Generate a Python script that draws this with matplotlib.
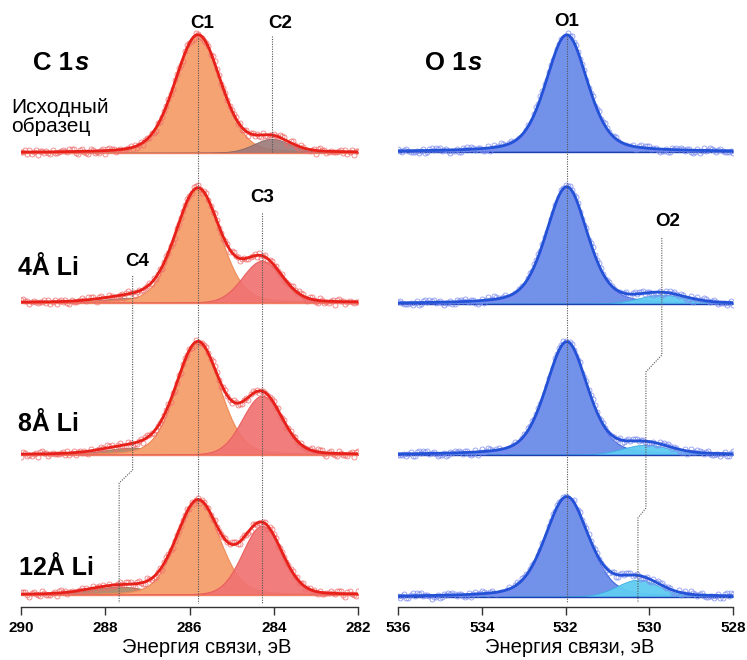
import numpy as np
import matplotlib
matplotlib.use('Agg')
import matplotlib.pyplot as plt

plt.rcParams['font.family'] = ['Liberation Sans', 'DejaVu Sans']

# ---------------- data (intensities in arbitrary units) ----------------
row_labels = ['Исходный\nобразец', '4Å Li', '8Å Li', '12Å Li']
C_offsets = [454, 304, 152, 12]
O_offsets = [455, 303, 152, 10]

C1_center = [285.80, 285.80, 285.80, 285.80]
C1_height = [118, 114, 112, 94]
C1_fwhm = [1.28, 1.24, 1.22, 1.2]

C2_center = [284.05, None, None, None]
C2_height = [14, 0, 0, 0]
C2_fwhm = [1.0, 1.0, 1.0, 1.0]

C3_center = [None, 284.28, 284.28, 284.28]
C3_height = [0, 42, 59, 69]
C3_fwhm = [1.12, 1.1, 1.1, 1.1]

C4_center = [None, 287.35, 287.35, 287.67]
C4_height = [0, 5, 7, 8]
C4_fwhm = [1.6, 1.6, 1.6, 1.6]

O1_center = [531.97, 531.97, 531.97, 531.97]
O1_height = [117, 117, 113, 100]
O1_fwhm = [1.17, 1.17, 1.17, 1.22]

O2_center = [None, 529.70, 530.08, 530.27]
O2_height = [0, 9, 10, 17]
O2_fwhm = [1.3, 1.3, 1.3, 1.2]

C_ticks = [290, 288, 286, 284, 282]
O_ticks = [536, 534, 532, 530, 528]

# measured-point scatter around the fit (read approximately)
resid = [1.2, -0.8, 2.1, -1.5, 0.3, -2.2, 1.7, 0.6, -1.1, 2.6, -0.4, -1.9, 1.0, 0.2,
         -2.7, 1.5, -0.6, 2.3, -1.3, 0.8, -0.2, 1.9, -2.4, 0.5, 1.4, -1.7, 2.8, -0.9,
         0.1, -1.4, 2.0, -2.9, 0.9, 1.6, -0.5, -2.0, 1.1, 0.4, -1.2, 2.4, -3.1, 0.7,
         1.8, -1.0, 0.0, 2.2, -2.5, 1.3, -0.3, -1.6]

# ---------------- helpers ----------------
W, H = 747, 660
fig = plt.figure(figsize=(W / 100, H / 100), dpi=100)

AX_BOTTOM = 606.7  # px from top


def pv(x, c, h, fwhm, eta=0.3):
    if c is None or h == 0:
        return np.zeros_like(x)
    g = np.exp(-4 * np.log(2) * ((x - c) / fwhm) ** 2)
    l = 1 / (1 + 4 * ((x - c) / fwhm) ** 2)
    return h * ((1 - eta) * g + eta * l)


def ypx(y):
    """convert pixel row (from top) to data y"""
    return AX_BOTTOM - y


def make_ax(x0, x1, lim, ticks, label_x):
    ax = fig.add_axes([x0 / W, (H - AX_BOTTOM) / H, (x1 - x0) / W, AX_BOTTOM / H])
    ax.set_xlim(lim)
    ax.set_ylim(0, AX_BOTTOM)
    for s in ['left', 'right', 'top']:
        ax.spines[s].set_visible(False)
    ax.spines['bottom'].set_color('#333333')
    ax.spines['bottom'].set_linewidth(1.0)
    ax.set_yticks([])
    ax.set_xticks(ticks)
    ax.set_xticklabels([str(t) for t in ticks], fontsize=11, fontweight='bold')
    ax.tick_params(axis='x', length=6, width=1, color='#333333', pad=4)
    ax.set_xlabel('Энергия связи, эВ', fontsize=14.5)
    ax.xaxis.set_label_coords(label_x, -0.052)
    ax.patch.set_alpha(0)
    return ax


axC = make_ax(21, 358, (290, 282), C_ticks, 0.552)
axO = make_ax(398, 733, (536, 528), O_ticks, 0.513)

xC = np.arange(282.0, 290.0001, 0.05)
xO = np.arange(528.0, 536.0001, 0.05)

dot = dict(color='#555555', lw=0.8, ls=(0, (1, 1.2)), zorder=6)

# ---------------- C 1s ----------------
for i in range(4):
    off = C_offsets[i]
    c1 = pv(xC, C1_center[i], C1_height[i], C1_fwhm[i], 0.22)
    c2 = pv(xC, C2_center[i], C2_height[i], C2_fwhm[i], 0.15)
    c3 = pv(xC, C3_center[i], C3_height[i], C3_fwhm[i], 0.08)
    c4 = pv(xC, C4_center[i], C4_height[i], C4_fwhm[i], 0.1)
    env = c1 + c2 + c3 + c4
    if C4_height[i] > 0:
        axC.fill_between(xC, off, off + c4, color='#B48E6E', lw=0.6, ec='#9A7050', zorder=2)
    axC.fill_between(xC, off, off + c1, color='#F6A374', lw=0.8, ec='#EE8A55', zorder=2)
    if C3_height[i] > 0:
        axC.fill_between(xC, off, off + c3, color='#F07272', alpha=0.92, lw=0.8, ec='#E85A5A', zorder=2.5)
    if C2_height[i] > 0:
        axC.fill_between(xC, off, off + c2, color='#9C7878', alpha=0.9, lw=0.6, ec='#806060', zorder=2.5)
    axC.plot(xC, np.full_like(xC, off), color='#F08060', lw=1.0, zorder=2.6)
    r = np.array([resid[(k * 7 + i * 13) % len(resid)] for k in range(len(xC))])
    axC.plot(xC, off + env + r, ls='none', marker='o', ms=3.6, mfc='none', mec='#F06A6A',
             mew=0.6, alpha=0.85, zorder=3)
    axC.plot(xC, off + env, color='#E8201A', lw=2.0, zorder=4)

# ---------------- O 1s ----------------
for i in range(4):
    off = O_offsets[i]
    o1 = pv(xO, O1_center[i], O1_height[i], O1_fwhm[i], 0.35)
    o2 = pv(xO, O2_center[i], O2_height[i], O2_fwhm[i], 0.1)
    env = o1 + o2
    axO.fill_between(xO, off, off + o1, color='#7292EA', lw=0.8, ec='#3F67DE', zorder=2)
    if O2_height[i] > 0:
        axO.fill_between(xO, off, off + o2, color='#5FCCF2', alpha=0.95, lw=0.6, ec='#3AAAE0', zorder=2.5)
    axO.plot(xO, np.full_like(xO, off), color='#1E3FB0', lw=1.0, zorder=2.6)
    r = np.array([resid[(k * 11 + i * 17 + 5) % len(resid)] for k in range(len(xO))])
    axO.plot(xO, off + env + r, ls='none', marker='o', ms=3.6, mfc='none', mec='#7C8CF0',
             mew=0.6, alpha=0.85, zorder=3)
    axO.plot(xO, off + env, color='#2352D6', lw=2.0, zorder=4)

# ---------------- marker lines ----------------
axC.plot([C1_center[0]] * 2, [ypx(38), ypx(603)], **dot)
axC.plot([C2_center[0]] * 2, [ypx(36), ypx(153)], **dot)
axC.plot([C3_center[1]] * 2, [ypx(213), ypx(603)], **dot)
axC.plot([C4_center[1], C4_center[2], C4_center[3], C4_center[3]],
         [ypx(276), ypx(470), ypx(483), ypx(603)], **dot)
axO.plot([O1_center[0]] * 2, [ypx(36), ypx(603)], **dot)
axO.plot([O2_center[1], O2_center[1], O2_center[2], O2_center[2], O2_center[3], O2_center[3]],
         [ypx(238), ypx(355), ypx(372), ypx(508), ypx(518), ypx(603)], **dot)

# ---------------- peak labels ----------------
pk = dict(fontsize=13.5, fontweight='bold', ha='center', va='center', zorder=7)
axC.text(C1_center[0] - 0.1, ypx(23), 'C1', **pk)
axC.text(C2_center[0] - 0.2, ypx(23), 'C2', **pk)
axC.text(C3_center[1], ypx(198), 'C3', **pk)
axC.text(C4_center[1] - 0.1, ypx(261), 'C4', **pk)
axO.text(O1_center[0], ypx(21), 'O1', **pk)
axO.text(O2_center[1] - 0.15, ypx(222), 'O2', **pk)


# ---------------- panel / row labels ----------------
def fx(x):
    return x / W


def fy(y):
    return 1 - y / H


for xpx, core in [(33, 'C 1'), (425, 'O 1')]:
    t = fig.text(fx(xpx), fy(63), core, fontsize=18.5, fontweight='bold', va='center', ha='left')
    plt.annotate('s', xy=(1, 0.5), xycoords=t, xytext=(1, 0), textcoords='offset points',
                 fontsize=18.5, fontweight='bold', style='italic', va='center', ha='left',
                 annotation_clip=False)

fig.text(fx(11), fy(117), row_labels[0], fontsize=15, va='center', ha='left', linespacing=1.05,
         bbox=dict(fc='white', ec='none', pad=1))
fig.text(fx(18), fy(268), row_labels[1], fontsize=18, fontweight='bold', va='center', ha='left')
fig.text(fx(18), fy(424), row_labels[2], fontsize=18, fontweight='bold', va='center', ha='left')
fig.text(fx(19), fy(568), row_labels[3], fontsize=18, fontweight='bold', va='center', ha='left')

fig.savefig('out.png', dpi=100)
